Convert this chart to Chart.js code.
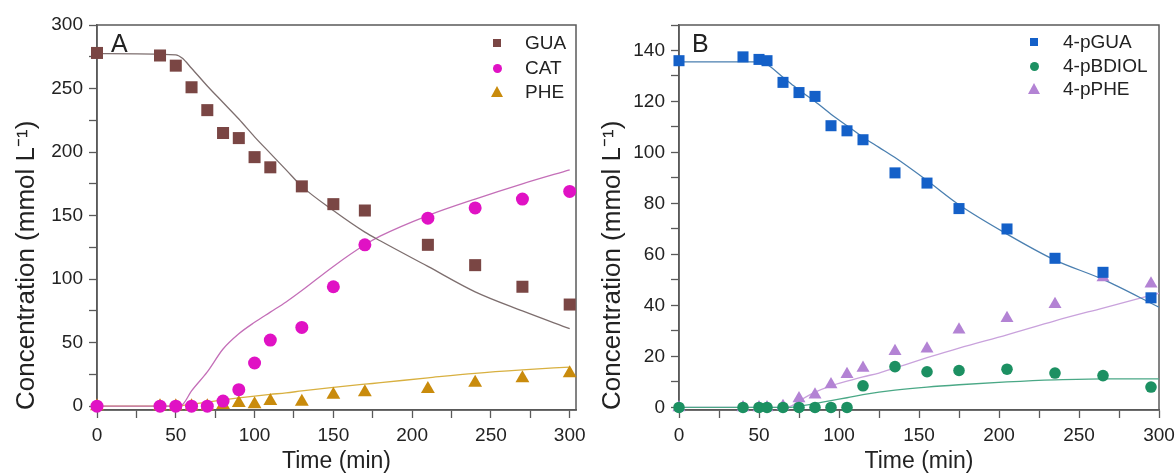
<!doctype html>
<html>
<head>
<title>Concentration vs time</title>
<script src="https://cdn.jsdelivr.net/npm/chart.js"></script>
<style>
    body { margin: 0; background: #fff; font-family: "Liberation Sans", Arial, sans-serif; }
    #wrap { position: relative; width: 1175px; height: 475px; overflow: hidden; }
    canvas { position: absolute; top: 0; }
    #chartA { left: 0; }
    #chartB { left: 587px; }
    .panel-label { position: absolute; font-size: 25px; color: #222; line-height: 1; }
    .lg-text { position: absolute; font-size: 19px; line-height: 20px; color: #222; white-space: nowrap; }
    .mk { position: absolute; }
</style>
</head>
<body>
<div id="wrap">
    <canvas id="chartA" width="600" height="475"></canvas>
    <canvas id="chartB" width="600" height="475"></canvas>
    <div class="panel-label" style="left:111px; top:31px;">A</div>
    <div class="panel-label" style="left:692px; top:31px;">B</div>
</div>
<script>
    // ---- panel A : measured points ----
    const timeA = [0, 40, 50, 60, 70, 80, 90, 100, 110, 130, 150, 170, 210, 240, 270, 300];
    const guaA = [278, 276, 268, 251, 233, 215, 211, 196, 188, 173, 159, 154, 127, 111, 94, 80];
    const catA = [0, 0, 0, 0, 0, 4, 13, 34, 52, 62, 94, 127, 148, 156, 163, 169];
    const pheA = [0, 0, 0, 0, 0, 1, 2.5, 1.5, 4, 3.5, 9, 11, 13.5, 18.5, 22, 26];
    // panel A : model curves
    const fitTimeA = [0, 50, 54, 60, 70, 80, 90, 100, 110, 120, 130, 150, 170, 180, 210, 240, 270, 300];
    const guaFitA = [277.5, 276.5, 274, 266, 252, 239, 226, 212, 199, 186, 173, 154, 137, 130, 110, 90, 75, 61];
    const catFitA = [0, 0, 1, 12, 27, 45, 57, 66, 74, 82, 91, 110, 127, 134, 150, 163, 175, 186];
    const pheFitA = [0, 0, 0.5, 1.5, 3.2, 5, 6.6, 8, 9.3, 10.5, 12, 14.8, 17.3, 18.5, 22.3, 25.9, 28.6, 30.8];

    // ---- panel B : measured points ----
    const timeB = [0, 40, 50, 55, 65, 75, 85, 95, 105, 115, 135, 155, 175, 205, 235, 265, 295];
    const pguaB = [136, 137.5, 136.5, 136, 127.5, 123.5, 122, 110.5, 108.5, 105, 92, 88, 78, 70, 58.5, 53, 43];
    const pbdiolB = [0, 0, 0, 0, 0, 0, 0, 0, 0, 8.5, 16, 14, 14.5, 15, 13.5, 12.5, 8];
    const ppheB = [0, 0, 0, 0, 0.5, 3.5, 5, 9, 13, 15.5, 22, 23, 30.5, 35, 40.5, 51, 48.5];
    // panel B : model curves
    const fitTimeB = [0, 50, 55, 65, 70, 75, 85, 95, 105, 115, 125, 135, 155, 175, 205, 235, 265, 300];
    const pguaFitB = [135.5, 135.5, 134.5, 129.5, 127, 124.5, 120, 115, 110.5, 106, 102, 98, 89, 79.5, 68, 57.8, 50.2, 39.3];
    const pbdiolFitB = [0, 0, 0, 0, 0, 0.5, 1.5, 2.7, 3.8, 5, 6, 6.8, 8, 8.9, 10, 10.8, 11.2, 11.2];
    const ppheFitB = [0, 0, 0, 0, 0.5, 2.5, 6, 8.5, 10.3, 12, 13.5, 15.5, 19.5, 23.3, 28.5, 34, 39, 44.8];

    const xTitle = 'Time (min)';
    const yTitle = 'Concentration (mmol L\u207B\u00B9)';

    Chart.defaults.font.family = '"Liberation Sans", Arial, sans-serif';
    Chart.defaults.color = '#222';

    function pts(xs, ys) {
        return xs.map((x, i) => ({ x: x, y: ys[i] }));
    }

    function scatterSet(label, xs, ys, color, shape, r) {
        return {
            type: 'scatter', label: label, data: pts(xs, ys),
            pointStyle: shape, pointRadius: r, pointBackgroundColor: color,
            pointBorderColor: color, pointBorderWidth: 0, clip: false, order: 1
        };
    }

    function fitSet(xs, ys, color) {
        return {
            type: 'line', data: pts(xs, ys), borderColor: color, borderWidth: 1.3,
            pointRadius: 0, cubicInterpolationMode: 'monotone', fill: false, order: 2
        };
    }

    // box round the plot area
    const framePlugin = {
        id: 'frame',
        beforeDatasetsDraw(chart) {
            const a = chart.chartArea, c = chart.ctx;
            c.save();
            c.strokeStyle = '#5a5a5a';
            c.lineWidth = 1.5;
            c.strokeRect(a.left, a.top, a.right - a.left, a.bottom - a.top);
            c.restore();
        }
    };

    function axis(min, max, minor, major, fitSize, horizontal, title, titlePad, titleSize, titleAlign) {
        return {
            type: 'linear', min: min, max: max,
            afterBuildTicks(s) {
                const t = [];
                for (let v = 0; v <= s.max + 1e-9; v += minor) t.push({ value: v });
                s.ticks = t;
            },
            afterFit(s) { if (horizontal) s.height = fitSize; else s.width = fitSize; },
            ticks: {
                stepSize: minor, autoSkip: false, maxRotation: 0, padding: 6,
                font: { size: 19 }, color: '#222',
                callback: v => (v % major === 0 ? String(v) : '')
            },
            grid: { drawOnChartArea: false, tickLength: 8, color: '#5a5a5a', tickWidth: 1.3 },
            border: { display: true, color: '#5a5a5a', width: 1.5 },
            title: {
                display: true, text: title, font: { size: titleSize }, color: '#222',
                padding: titlePad, align: titleAlign
            }
        };
    }

    function makePanel(id, datasets, xs, ys, pad) {
        return new Chart(document.getElementById(id), {
            data: { datasets: datasets },
            options: {
                responsive: false, animation: false, events: [],
                layout: { padding: pad },
                plugins: { legend: { display: false }, tooltip: { enabled: false } },
                scales: { x: xs, y: ys }
            },
            plugins: [framePlugin]
        });
    }

    makePanel('chartA', [
        scatterSet('GUA', timeA, guaA, '#7a4644', 'rect', 8.5),
        scatterSet('CAT', timeA, catA, '#e012c4', 'circle', 6.5),
        scatterSet('PHE', timeA, pheA, '#c98b0c', 'triangle', 8),
        fitSet(fitTimeA, guaFitA, '#7d6e6e'),
        fitSet(fitTimeA, catFitA, '#c46fb8'),
        fitSet(fitTimeA, pheFitA, '#d8b040')
    ],
        axis(0, 304, 25, 50, 65, true, xTitle, { top: 0, bottom: 0 }, 23, 'center'),
        axis(-3, 300, 25, 50, 97, false, yTitle, { top: 11, bottom: 0 }, 26, 'start'),
        { left: 0, right: 24, top: 25, bottom: 0 });

    makePanel('chartB', [
        scatterSet('4-pGUA', timeB, pguaB, '#1460c8', 'rect', 7.8),
        scatterSet('4-pBDIOL', timeB, pbdiolB, '#1c9062', 'circle', 5.8),
        scatterSet('4-pPHE', timeB, ppheB, '#b383d4', 'triangle', 7.5),
        fitSet(fitTimeB, pguaFitB, '#4a7fb0'),
        fitSet(fitTimeB, pbdiolFitB, '#4aa886'),
        fitSet(fitTimeB, ppheFitB, '#c9a2dc')
    ],
        axis(0, 300, 25, 50, 65, true, xTitle, { top: 0, bottom: 0 }, 23, 'center'),
        axis(-1, 150, 10, 20, 92, false, yTitle, { top: 10, bottom: 0 }, 26, 'start'),
        { left: 0, right: 28, top: 25, bottom: 0 });

    // legends placed in the upper right of each plot
    const legendA = [
        { label: 'GUA', color: '#7a4644', shape: 'square', cy: 43 },
        { label: 'CAT', color: '#e012c4', shape: 'circle', cy: 68 },
        { label: 'PHE', color: '#c98b0c', shape: 'triangle', cy: 92 }
    ];
    const legendB = [
        { label: '4-pGUA', color: '#1460c8', shape: 'square', cy: 42 },
        { label: '4-pBDIOL', color: '#1c9062', shape: 'circle', cy: 66 },
        { label: '4-pPHE', color: '#b383d4', shape: 'triangle', cy: 89 }
    ];

    function addLegend(items, mx, tx) {
        const wrap = document.getElementById('wrap');
        items.forEach(it => {
            const m = document.createElement('div');
            m.className = 'mk';
            if (it.shape === 'triangle') {
                m.style.cssText = `left:${mx - 6}px;top:${it.cy - 6}px;width:0;height:0;` +
                    `border-left:6px solid transparent;border-right:6px solid transparent;border-bottom:11px solid ${it.color};`;
            } else {
                const s = it.shape === 'circle' ? 9 : 8;
                m.style.cssText = `left:${mx - s / 2}px;top:${it.cy - s / 2}px;width:${s}px;height:${s}px;background:${it.color};` +
                    (it.shape === 'circle' ? 'border-radius:50%;' : '');
            }
            wrap.appendChild(m);
            const t = document.createElement('div');
            t.className = 'lg-text';
            t.style.left = tx + 'px';
            t.style.top = (it.cy - 10) + 'px';
            t.textContent = it.label;
            wrap.appendChild(t);
        });
    }
    addLegend(legendA, 497, 525);
    addLegend(legendB, 1034, 1063);
</script>
</body>
</html>
